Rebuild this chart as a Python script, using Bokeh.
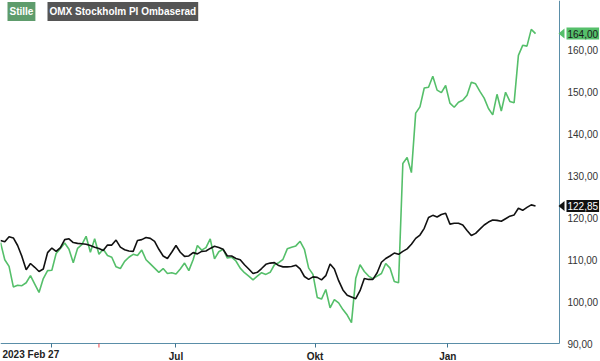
from bokeh.plotting import figure
from bokeh.models import (Range1d, FixedTicker, Label, PolyAnnotation, Arrow,
                          ColumnDataSource, LinearAxis)
from bokeh.embed import file_html
from bokeh.resources import INLINE

# --- data: session index (every 2nd trading day from 2023-02-27) ---
sessions = list(range(0, 251, 2))

omx = [114.6, 114.3, 115.5, 115.2, 113.4, 110.8, 107.6, 109.1, 108.2, 107.2,
       107.8, 111.7, 112.8, 112.0, 112.9, 114.8, 115.0, 114.1, 113.9, 113.8,
       113.7, 113.4, 113.0, 112.7, 112.2, 113.5, 113.5, 114.7, 113.0, 112.4,
       112.1, 112.0, 114.6, 114.8, 115.3, 115.1, 114.4, 112.5, 110.9, 110.3,
       111.8, 113.4, 111.8, 110.8, 110.9, 111.7, 111.4, 112.0, 112.1, 112.7,
       113.2, 112.9, 112.5, 110.9, 110.9, 110.3, 110.0, 108.8, 107.8, 106.7,
       107.0, 107.9, 108.9, 109.2, 109.3, 108.6, 108.3, 108.3, 108.4, 108.7,
       107.8, 106.0, 105.3, 105.9, 105.8, 105.2, 106.2, 109.0, 107.8, 105.0,
       102.8, 101.5, 101.1, 100.7, 102.6, 105.5, 105.3, 105.3, 106.9, 109.4,
       110.3, 110.9, 111.6, 111.3, 112.0, 112.6, 113.7, 115.1, 115.9, 117.5,
       120.1, 120.6, 120.2, 120.8, 121.1, 118.5, 118.7, 118.7, 118.3, 117.0,
       115.8, 116.3, 117.3, 118.3, 119.0, 119.5, 119.4, 119.2, 119.8, 120.4,
       120.7, 122.3, 121.8, 122.5, 123.1, 122.85]

stille = [114.1, 110.0, 108.4, 103.5, 103.9, 103.8, 104.5, 106.2, 104.2, 102.2,
          105.5, 107.4, 107.5, 111.5, 112.7, 114.0, 112.5, 109.3, 112.7, 113.6,
          115.6, 111.8, 115.0, 111.3, 112.5, 111.0, 110.6, 108.3, 107.9, 109.6,
          110.6, 111.3, 111.0, 112.3, 110.0, 109.0, 108.0, 107.0, 107.9, 106.7,
          106.9, 106.6, 107.8, 109.2, 107.4, 110.0, 113.4, 112.3, 112.9, 115.0,
          110.2, 111.9, 112.5, 110.4, 110.6, 109.7, 108.0, 106.9, 106.1, 105.2,
          106.1, 106.9, 106.5, 107.0, 108.8, 109.3, 110.1, 112.6, 113.0, 113.3,
          114.4, 112.5, 108.0, 106.5, 101.0, 100.6, 102.9, 98.5, 100.5, 99.7,
          98.1, 96.8, 95.0, 105.6, 108.8, 107.2, 106.1, 105.5, 106.1, 106.7,
          109.1, 108.0, 104.8, 104.5, 133.0, 134.4, 130.8, 145.0, 146.5, 151.0,
          151.2, 153.8, 150.5, 149.9, 151.6, 147.4, 146.4, 147.6, 148.1, 149.3,
          152.4, 152.0, 150.2, 148.6, 146.1, 144.6, 149.5, 145.5, 150.0, 147.8,
          147.5, 158.8, 161.2, 161.0, 165.0, 164.0]

tick_sessions = [24, 82, 147, 209]
tick_labels = ["", "Jul", "Okt", "Jan"]
marker_session = 46
y_ticks = [90, 100, 110, 120, 130, 140, 150, 160]
first_label = "2023 Feb 27"
names = ["Stille", "OMX Stockholm PI Ombaserad"]

GREEN = "#55bf6a"
AXIS = "#5a8ea8"

W, H = 600, 361
FW, FH = 559, 343            # plotting area inside the canvas
XEND = 261.2                 # session at the right border
YMIN, YMAX = 90, 171.9
sx = XEND / FW
sy = (YMAX - YMIN) / FH

p = figure(width=W, height=H, output_backend="svg", toolbar_location=None,
           x_range=Range1d(0, W * sx), y_range=Range1d(YMAX - H * sy, YMAX),
           x_axis_location=None, y_axis_location=None,
           min_border=0)
p.outline_line_color = None
p.grid.visible = False

src = ColumnDataSource(dict(x=sessions, omx=omx, stille=stille))
p.line("x", "stille", source=src, line_color=GREEN, line_width=1.6)
p.line("x", "omx", source=src, line_color="#111111", line_width=1.6)

xa = LinearAxis(fixed_location=YMIN, bounds=(0, XEND))
xa.ticker = FixedTicker(ticks=tick_sessions)
xa.major_label_overrides = {t: l for t, l in zip(tick_sessions, tick_labels)}
xa.axis_line_color = AXIS
xa.major_tick_line_color = "#3f7490"
xa.major_tick_out = 4
xa.major_tick_in = 0
xa.minor_tick_line_color = None
xa.major_label_standoff = 3
xa.major_label_text_font = "Liberation Sans"
xa.major_label_text_font_size = "10px"
xa.major_label_text_font_style = "bold"
xa.major_label_text_color = "#222222"
p.add_layout(xa, "below")

ya = LinearAxis(fixed_location=XEND, bounds=(YMIN, YMAX))
ya.ticker = FixedTicker(ticks=y_ticks)
ya.major_label_overrides = {v: f"{v},00" for v in y_ticks}
ya.axis_line_color = AXIS
ya.major_tick_out = 0
ya.major_tick_in = 0
ya.minor_tick_line_color = None
ya.major_label_standoff = 8
ya.major_label_text_font = "Liberation Sans"
ya.major_label_text_font_size = "10px"
ya.major_label_text_color = "#333333"
p.add_layout(ya, "right")

# first date label
p.add_layout(Label(x=2 * sx, y=YMIN - 11 * sy, text=first_label,
                   text_align="left", text_baseline="middle",
                   text_font="Liberation Sans", text_font_size="10px",
                   text_font_style="bold", text_color="#222222"))

# red marker tick
p.add_layout(Arrow(x_start=marker_session, y_start=YMIN, x_end=marker_session,
                   y_end=YMIN - 4 * sy, end=None, line_color="#e8454a",
                   line_width=1))

# legend boxes
p.add_layout(Label(x=7 * sx, y=YMAX - 11 * sy, text=names[0], text_align="left",
                   text_baseline="middle", text_font="Liberation Sans",
                   text_font_size="10px", text_font_style="bold",
                   text_color="white", background_fill_color="#5e9c6c",
                   padding=(2, 4)))
p.add_layout(Label(x=47 * sx, y=YMAX - 11 * sy, text=names[1], text_align="left",
                   text_baseline="middle", text_font="Liberation Sans",
                   text_font_size="10px", text_font_style="bold",
                   text_color="white", background_fill_color="#555555",
                   padding=(2, 4)))

# last value tags
last_s, last_o = stille[-1], omx[-1]
for val, bg, fg in [(last_s, GREEN, "#1a1a1a"), (last_o, "#111111", "white")]:
    p.add_layout(PolyAnnotation(xs=[558 * sx, 564 * sx, 564 * sx],
                                ys=[val, val + 5 * sy, val - 5 * sy],
                                fill_color=bg, fill_alpha=1, line_color=None))
    p.add_layout(Label(x=566 * sx, y=val, text=f"{val:.2f}".replace(".", ","),
                       text_align="left", text_baseline="middle",
                       text_font="Liberation Sans", text_font_size="10px",
                       text_color=fg, background_fill_color=bg,
                       padding=(1, 2)))

open("out.html", "w").write(file_html(p, INLINE))
